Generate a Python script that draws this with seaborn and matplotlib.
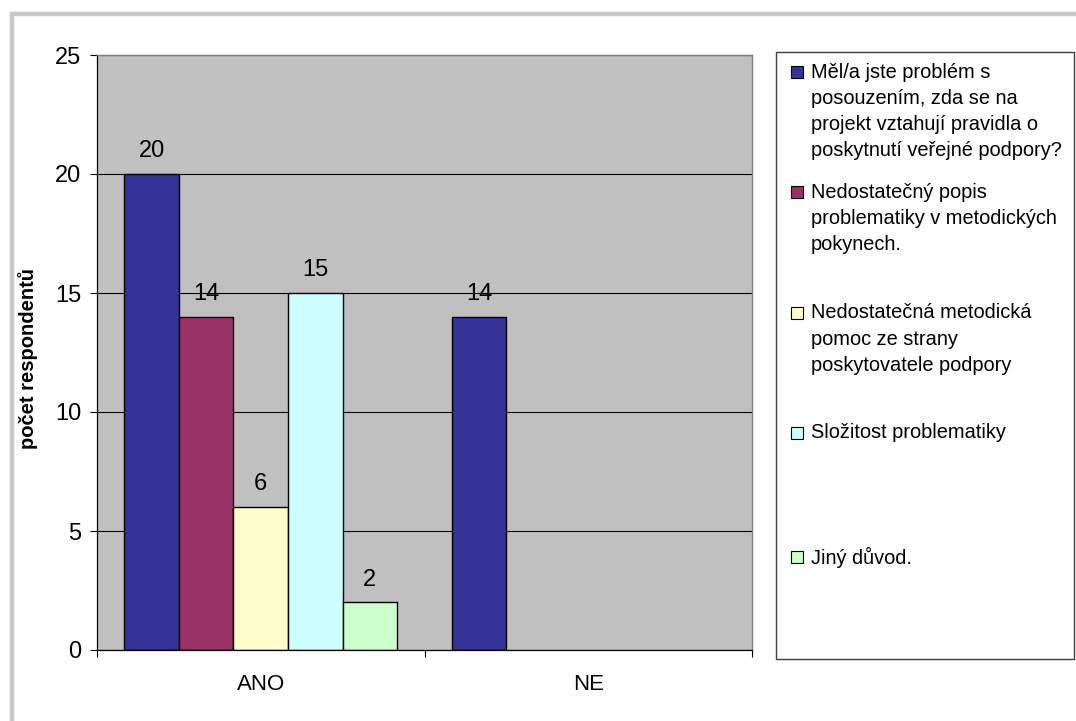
import matplotlib
matplotlib.use("Agg")
import matplotlib.pyplot as plt
from matplotlib.patches import Rectangle
from matplotlib.ticker import FixedLocator
import pandas as pd
import seaborn as sns

# Survey answers: was the assessment of public-support rules a problem?
answers = ["ANO", "NE"]
reasons = [
    "Měl/a jste problém s posouzením, zda se na projekt vztahují pravidla o poskytnutí veřejné podpory?",
    "Nedostatečný popis problematiky v metodických pokynech.",
    "Nedostatečná metodická pomoc ze strany poskytovatele podpory",
    "Složitost problematiky",
    "Jiný důvod.",
]
# Legend text broken into lines as shown in the legend box
reason_lines = [
    ["Měl/a jste problém s", "posouzením, zda se na", "projekt vztahují pravidla o", "poskytnutí veřejné podpory?"],
    ["Nedostatečný popis", "problematiky v metodických", "pokynech."],
    ["Nedostatečná metodická", "pomoc ze strany", "poskytovatele podpory"],
    ["Složitost problematiky"],
    ["Jiný důvod."],
]
counts_ano = [20, 14, 6, 15, 2]
counts_ne = [14]
colors = ["#333399", "#993366", "#FFFFCC", "#CCFFFF", "#CCFFCC"]
y_ticks = [0, 5, 10, 15, 20, 25]

rows = [("ANO", r, v) for r, v in zip(reasons, counts_ano)]
rows += [("NE", r, v) for r, v in zip(reasons, counts_ne)]
df = pd.DataFrame(rows, columns=["odpoved", "duvod", "pocet"])

plt.rcParams["font.family"] = ["Liberation Sans", "DejaVu Sans"]

W, H = 1076, 721
fig = plt.figure(figsize=(W / 100, H / 100), dpi=100)
fig.patch.set_facecolor("white")

# outer frame of the chart area
fig.patches.append(Rectangle((11.5 / W, -0.2), 1.2, (H - 14) / H + 0.2,
                             transform=fig.transFigure, fill=False,
                             edgecolor="#C8C8C8", linewidth=3.2))

ax = fig.add_axes([97 / W, (H - 650) / H, (752 - 97) / W, (650 - 55) / H])
ax.set_facecolor("#C0C0C0")

sns.barplot(data=df, x="odpoved", y="pocet", hue="duvod", order=answers,
            hue_order=reasons, palette=colors, width=0.833, saturation=1,
            edgecolor="black", linewidth=1.0, errorbar=None, legend=False, ax=ax)

for cont in ax.containers:
    ax.bar_label(cont, fmt="%d", padding=8.5, fontsize=17, color="black")

ax.set_xlim(-0.5, 1.5)
ax.set_ylim(0, 25)
ax.set_yticks(y_ticks)
ax.set_yticklabels([str(t) for t in y_ticks])
ax.yaxis.grid(True, color="black", linewidth=0.8)
ax.set_axisbelow(True)
ax.tick_params(axis="y", length=5, width=0.8, direction="out", pad=6.5,
               labelsize=17, colors="black")
ax.set_xticks([0, 1])
ax.set_xticklabels(answers)
ax.tick_params(axis="x", which="major", length=0, pad=17, labelsize=16, colors="black")
ax.xaxis.set_minor_locator(FixedLocator([-0.5, 0.5, 1.5]))
ax.tick_params(axis="x", which="minor", length=5, width=0.8, direction="out")

for side in ["top", "right"]:
    ax.spines[side].set_color("#808080")
    ax.spines[side].set_linewidth(1.0)
for side in ["left", "bottom"]:
    ax.spines[side].set_color("black")
    ax.spines[side].set_linewidth(0.9)

ax.set_xlabel("")
ax.set_ylabel("počet respondentů", fontsize=14.5, fontweight="bold", color="black")
ax.yaxis.set_label_coords((38 - 97) / (752 - 97), 0.49)

# legend box on the right
fig.patches.append(Rectangle((776 / W, (H - 659) / H), (1074 - 776) / W, (659 - 52) / H,
                             transform=fig.transFigure, facecolor="white",
                             edgecolor="#404040", linewidth=1.0))
entry_y = [72, 192, 313, 433, 557]
line_h = 26.3
for lines, col, y0 in zip(reason_lines, colors, entry_y):
    fig.patches.append(Rectangle((791 / W, (H - y0 - 6) / H), 12 / W, 12 / H,
                                 transform=fig.transFigure, facecolor=col,
                                 edgecolor="black", linewidth=0.8))
    for i, line in enumerate(lines):
        fig.text(811 / W, (H - (y0 + i * line_h)) / H, line, fontsize=14.4,
                 ha="left", va="center", color="black")

fig.savefig("out.png", dpi=100)
